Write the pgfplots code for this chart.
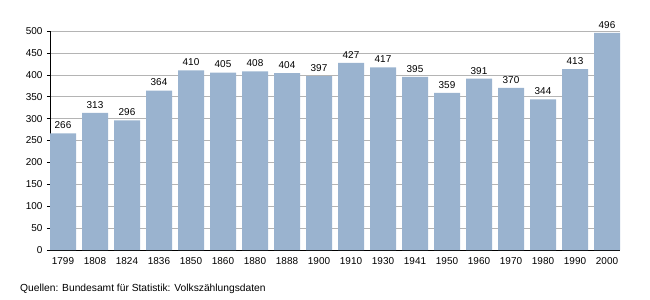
\documentclass[border=0pt]{standalone}
\usepackage{pgfplots}
\pgfplotsset{compat=1.18}
\usepackage{fontspec}
\setmainfont{Liberation Sans}
\definecolor{barblue}{HTML}{9AB3CF}
\definecolor{gridgray}{HTML}{B4B4B4}
\begin{document}
\begin{tikzpicture}
\path[use as bounding box] (-50bp,-50bp) rectangle (600bp,250bp);
\begin{axis}[
  at={(0,0)}, anchor=south west,
  scale only axis,
  width=570bp, height=219bp,
  xmin=-0.40625, xmax=17.40625,
  ymin=0, ymax=500,
  ytick={0,50,...,500},
  xtick={0,...,17},
  xticklabels={1799,1808,1824,1836,1850,1860,1880,1888,1900,1910,1930,1941,1950,1960,1970,1980,1990,2000},
  axis x line*=bottom, axis y line*=left,
  axis line style={-, black, line width=0.8pt},
  x tick style={draw=none},
  y tick style={black, line width=0.6pt},
  tick align=outside, major tick length=3bp,
  ymajorgrids, grid style={gridgray, line width=0.6pt},
  axis on top=false,
  tick label style={font=\fontsize{10}{12}\selectfont},
  /pgf/number format/assume math mode=true,
  /pgf/number format/1000 sep={},
  yticklabel style={xshift=-1bp},
  xticklabel style={yshift=-1bp},
  ybar, bar width=26bp, bar shift=0pt,
  nodes near coords,
  every node near coord/.append style={font=\fontsize{10}{12}\selectfont, text=black, yshift=1bp},
  clip=false,
]
\addplot[fill=barblue, draw=none] coordinates {
(0,266) (1,313) (2,296) (3,364) (4,410) (5,405) (6,408) (7,404) (8,397)
(9,427) (10,417) (11,395) (12,359) (13,391) (14,370) (15,344) (16,413) (17,496)
};
\end{axis}
\node[anchor=west, font=\fontsize{10.3}{12}\selectfont, inner sep=0pt] at (-30bp,-38.5bp) {Quellen: Bundesamt für Statistik: Volkszählungsdaten};
\end{tikzpicture}
\end{document}
